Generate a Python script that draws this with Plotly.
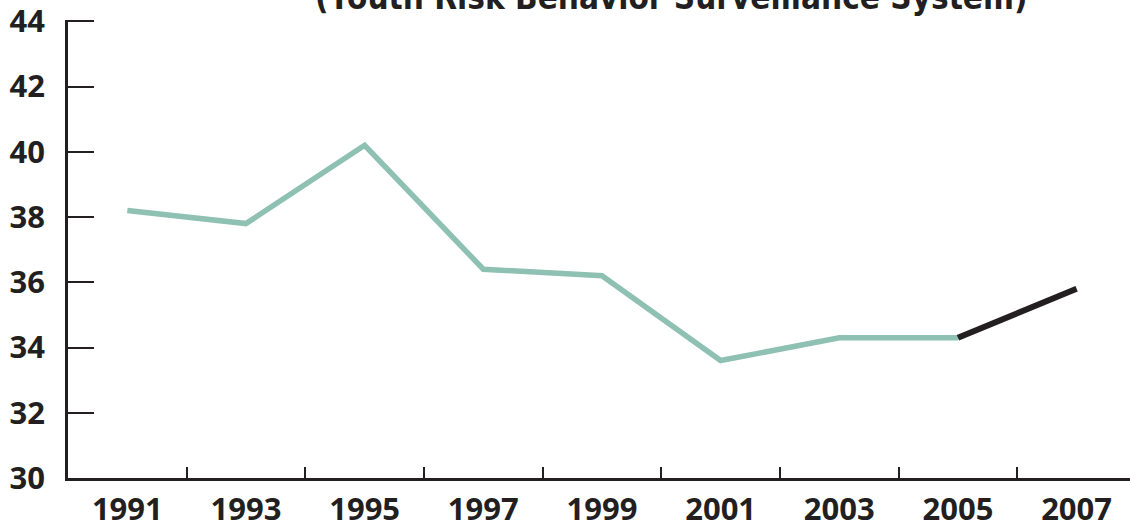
import plotly.graph_objects as go

# Survey years and percentages
years = [1991, 1993, 1995, 1997, 1999, 2001, 2003, 2005, 2007]
values = [38.2, 37.8, 40.2, 36.4, 36.2, 33.6, 34.3, 34.3, 35.8]
y_ticks = [30, 32, 34, 36, 38, 40, 42, 44]
x_labels = ["1991", "1993", "1995", "1997", "1999", "2001", "2003", "2005", "2007"]
x_minor = [1992, 1994, 1996, 1998, 2000, 2002, 2004, 2006]

INK = "#231f20"
TEAL = "#8fc1b3"

fig = go.Figure()
# Earlier years in teal
fig.add_trace(go.Scatter(x=years[:8], y=values[:8], mode="lines",
                         line=dict(color=TEAL, width=5.5), hoverinfo="skip"))
# Latest change in black
fig.add_trace(go.Scatter(x=years[7:], y=values[7:], mode="lines",
                         line=dict(color=INK, width=6), hoverinfo="skip"))

tick_font = dict(family="Open Sans", size=31, color=INK, weight="bold")

fig.update_layout(
    width=1130, height=523,
    margin=dict(l=68, r=0, t=20, b=45, autoexpand=False),
    paper_bgcolor="white", plot_bgcolor="white",
    showlegend=False,
    xaxis=dict(range=[1990, 2007.9], tickvals=years, ticktext=x_labels,
               ticks="", showgrid=False, zeroline=False, automargin=False,
               showline=True, linecolor=INK, linewidth=2.5,
               tickfont=tick_font, ticklabelstandoff=2,
               ticklabeloverflow="allow",
               minor=dict(tickvals=x_minor, ticks="inside", ticklen=11,
                          tickwidth=2, tickcolor=INK, showgrid=False)),
    yaxis=dict(range=[30, 44.04], tickvals=y_ticks, ticks="inside",
               ticklen=26, tickwidth=2, tickcolor=INK,
               showgrid=False, zeroline=False, automargin=False,
               showline=True, linecolor=INK, linewidth=2.5,
               tickfont=tick_font, ticklabelstandoff=14,
               ticklabeloverflow="allow"),
    annotations=[dict(text="(Youth Risk Behavior Surveillance System)",
                      xref="paper", yref="paper", x=0.568, y=1.0,
                      xanchor="center", yanchor="bottom", yshift=1,
                      showarrow=False,
                      font=dict(family="DejaVu Sans Condensed", size=33,
                                color=INK, weight="bold"))],
)

fig.write_html("out.html")
